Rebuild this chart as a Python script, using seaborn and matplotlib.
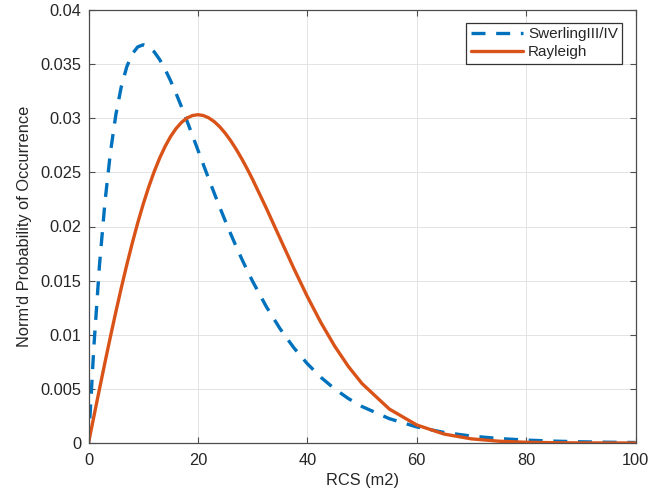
import matplotlib
matplotlib.use("Agg")
import matplotlib.pyplot as plt
import seaborn as sns
import pandas as pd
from matplotlib.ticker import FuncFormatter

# RCS values (m2)
rcs = [0, 1, 2, 3, 4, 5, 6, 7, 8, 9, 10, 11, 12, 13, 14, 15, 16, 17, 18, 19, 20,
       21, 22, 23, 24, 25, 26, 27, 28, 29, 30,
       32.5, 35, 37.5, 40, 42.5, 45, 47.5, 50, 55, 60, 65, 70, 75, 80, 85, 90, 95, 100]

swerling = [0, 0.009048, 0.016375, 0.022225, 0.026813, 0.030327, 0.032929, 0.034761,
            0.035946, 0.036591, 0.036788, 0.036616, 0.036143, 0.035429, 0.034524,
            0.033470, 0.032303, 0.031056, 0.029754, 0.028418, 0.027067, 0.025716,
            0.024377, 0.023060, 0.021772, 0.020521, 0.019311, 0.018146, 0.017027,
            0.015957, 0.014936, 0.012602,
            0.010569, 0.008819, 0.007326, 0.006062, 0.004999, 0.004110, 0.003369,
            0.002248, 0.001487, 0.000977, 0.000638, 0.000415, 0.000268, 0.000173,
            0.000111, 0.000071, 0.000045]

rayleigh = [0, 0.002497, 0.004975, 0.007416, 0.009802, 0.012115, 0.014340, 0.016460,
            0.018462, 0.020334, 0.022062, 0.023640, 0.025058, 0.026310, 0.027392,
            0.028307, 0.029046, 0.029615, 0.030019, 0.030249, 0.030327, 0.030252,
            0.030031, 0.029682, 0.029208, 0.028615, 0.027923, 0.027136, 0.026272,
            0.025338, 0.024349, 0.021698,
            0.018924, 0.016165, 0.013534, 0.011113, 0.008951, 0.007075, 0.005492,
            0.003135, 0.001666, 0.000826, 0.000383, 0.000166, 0.000067, 0.000026,
            0.000009, 0.000003, 0.000001]

labels = ["SwerlingIII/IV", "Rayleigh"]
x_ticks = [0, 20, 40, 60, 80, 100]
y_ticks = [0, 0.005, 0.01, 0.015, 0.02, 0.025, 0.03, 0.035, 0.04]

sns.set_theme(style="whitegrid")
plt.rcParams['font.family'] = ['Liberation Sans', 'DejaVu Sans']

df = pd.concat([
    pd.DataFrame({"RCS": rcs, "p": swerling, "series": labels[0]}),
    pd.DataFrame({"RCS": rcs, "p": rayleigh, "series": labels[1]}),
])

fig = plt.figure(figsize=(6.70, 4.99), dpi=100)
ax = fig.add_axes([88.5 / 670, 1 - 443 / 499, 547 / 670, 433 / 499])

sns.lineplot(data=df, x="RCS", y="p", hue="series", style="series",
             palette={labels[0]: "#0072BD", labels[1]: "#D95319"},
             dashes={labels[0]: (4.2, 3.2), labels[1]: ""},
             linewidth=2.4, ax=ax, sort=False)

ax.set_xlim(0, 100)
ax.set_ylim(0, 0.04)
ax.set_xticks(x_ticks)
ax.set_yticks(y_ticks)
ax.yaxis.set_major_formatter(FuncFormatter(lambda v, p: "%g" % round(v, 4)))
ax.set_xlabel("RCS (m2)", fontsize=11.8, color="#262626", labelpad=4)
ax.set_ylabel("Norm'd Probability of Occurrence", fontsize=11.8, color="#262626", labelpad=6)

ax.set_facecolor("white")
ax.grid(True, color="#e3e3e3", linewidth=0.7)
for s in ax.spines.values():
    s.set_visible(True)
    s.set_color("#4d4d4d")
    s.set_linewidth(0.9)
ax.tick_params(axis="both", which="both", direction="in", length=4, width=0.8,
               color="#4d4d4d", labelsize=11.8, labelcolor="#262626",
               top=True, right=True, bottom=True, left=True)
ax.tick_params(axis="x", pad=7)
ax.tick_params(axis="y", pad=5)

leg = ax.legend(loc="upper right", bbox_to_anchor=(0.976, 0.971), borderaxespad=0,
                fontsize=11, frameon=True, fancybox=False, handlelength=3.4,
                handletextpad=0.35, labelspacing=0.25, borderpad=0.3, title=None)
leg.get_frame().set_edgecolor("#333333")
leg.get_frame().set_linewidth(0.9)
leg.get_frame().set_alpha(1)

fig.savefig("out.png", dpi=100, facecolor="white")
